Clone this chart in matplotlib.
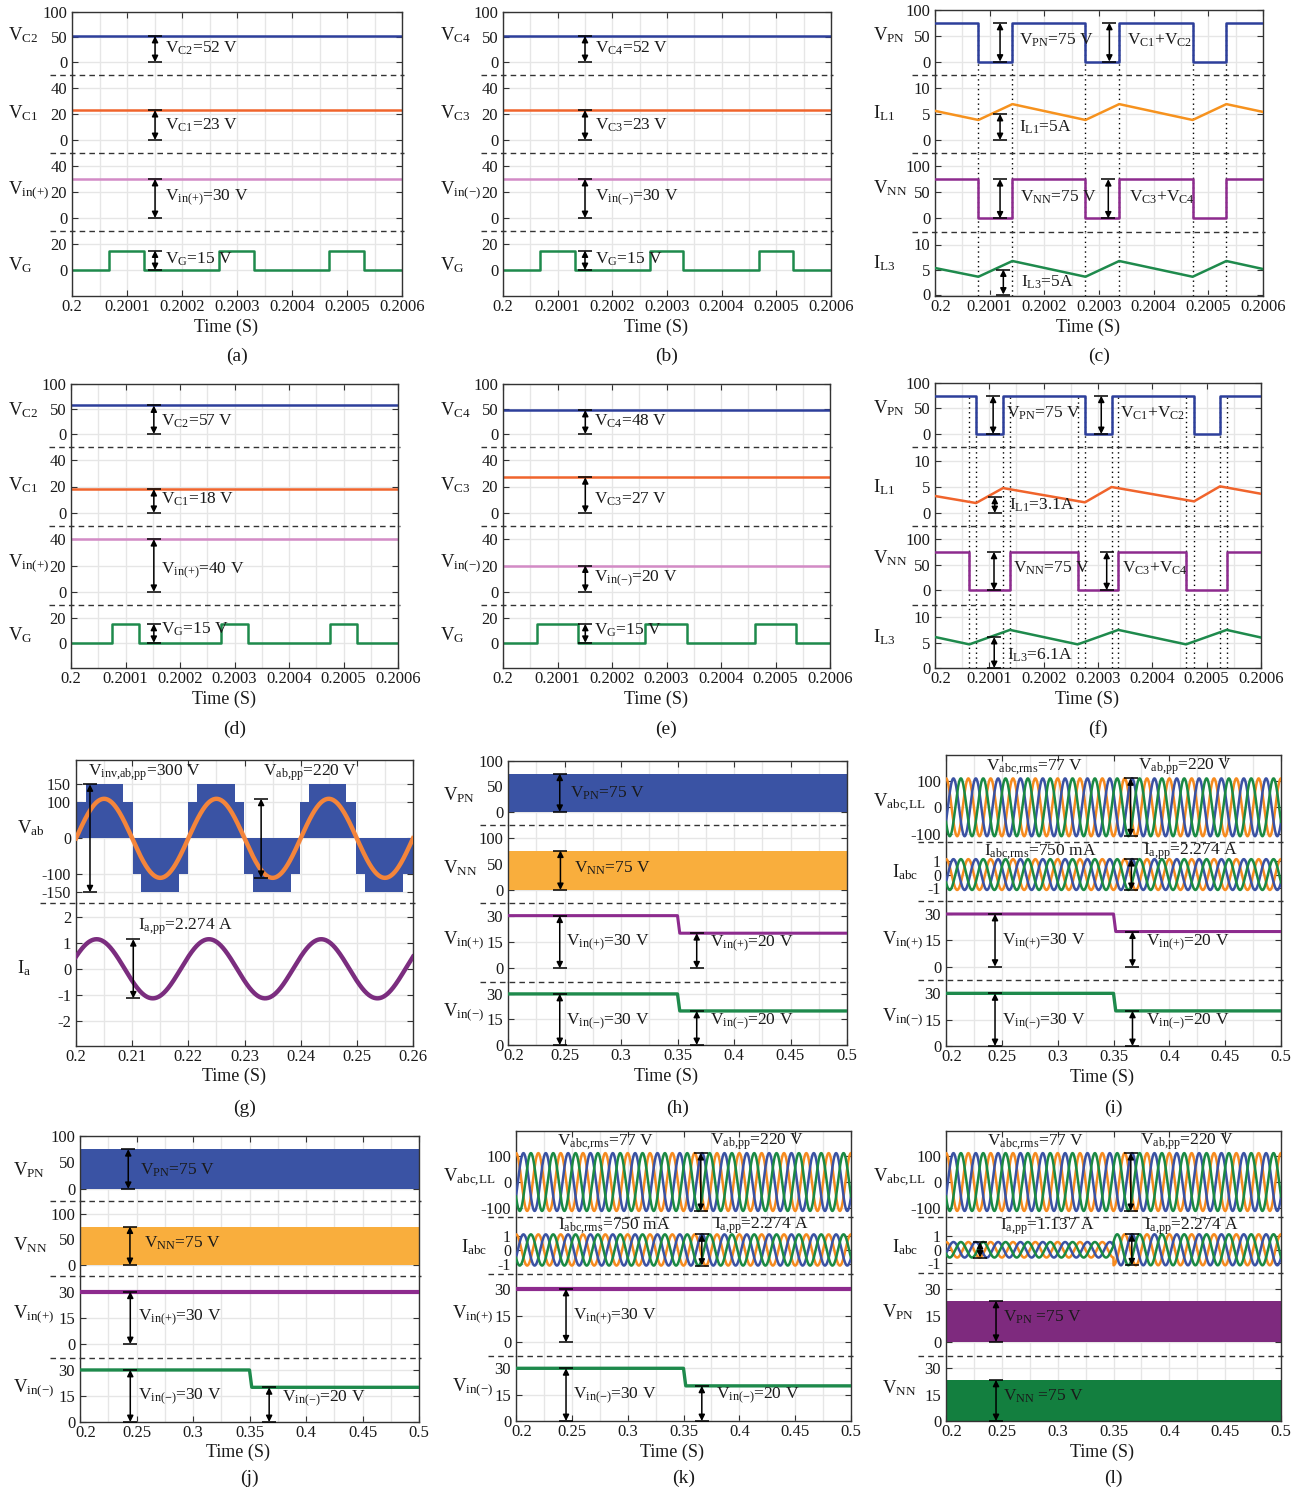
import numpy as np
import matplotlib
matplotlib.use('Agg')
import matplotlib.pyplot as plt
import matplotlib.transforms as mtransforms
from matplotlib.lines import Line2D

plt.rcParams['font.family'] = ['Liberation Serif', 'DejaVu Serif']
plt.rcParams['mathtext.fontset'] = 'custom'
plt.rcParams['mathtext.rm'] = 'Liberation Serif'
plt.rcParams['mathtext.it'] = 'Liberation Serif:italic'
plt.rcParams['mathtext.default'] = 'regular'

# ------------------------------------------------------------------ data
# switching-period window (s)
t_sw = [0.2, 0.2006]
sw_ticks = [0.2, 0.2001, 0.2002, 0.2003, 0.2004, 0.2005, 0.2006]
sw_ticklabels = ['0.2', '0.2001', '0.2002', '0.2003', '0.2004', '0.2005', '0.2006']

# (a)/(b): balanced inputs
vc2_a, vc1_a, vin_pos_a = 52, 23, 30
vc4_b, vc3_b, vin_neg_b = 52, 23, 30
vg_level = 15
gate_on_ab = [0.200067, 0.200268, 0.200468]
gate_off_ab = [0.200131, 0.200330, 0.200530]

# (d)/(e): unbalanced inputs
vc2_d, vc1_d, vin_pos_d = 57, 18, 40
vc4_e, vc3_e, vin_neg_e = 48, 27, 20
gate_on_d = [0.2000752, 0.2002746, 0.2004746]
gate_off_d = [0.2001242, 0.2003242, 0.2005242]
gate_on_e = [0.2000623, 0.2002614, 0.2004618]
gate_off_e = [0.2001368, 0.2003372, 0.2005370]

# (c): dc-link pulses and inductor currents, balanced case
vlink_level = 75
vpn_low_start_c = [0.2000794, 0.2002753, 0.2004713]
vpn_low_end_c = [0.2001416, 0.2003370, 0.2005330]
il_t_c = [0.2, 0.2000794, 0.2001416, 0.2002753, 0.2003370, 0.2004713, 0.2005330, 0.2006]
il1_c = [5.6, 3.85, 6.9, 3.85, 6.9, 3.85, 6.9, 5.4]
il3_c = [5.3, 3.55, 6.7, 3.55, 6.7, 3.55, 6.7, 5.1]

# (f): unbalanced case
vpn_low_start_f = [0.2000755, 0.2002760, 0.2004767]
vpn_low_end_f = [0.2001252, 0.2003250, 0.2005245]
vnn_low_start_f = [0.2000632, 0.2002626, 0.2004620]
vnn_low_end_f = [0.2001380, 0.2003374, 0.2005368]
il1_t_f = [0.2, 0.2000755, 0.2001252, 0.2002760, 0.2003250, 0.2004767, 0.2005245, 0.2006]
il1_f = [3.27, 1.92, 4.8, 2.05, 5.0, 2.24, 5.13, 3.7]
il3_t_f = [0.2, 0.2000632, 0.2001380, 0.2002626, 0.2003374, 0.2004620, 0.2005368, 0.2006]
il3_f = [6.1, 4.65, 7.5, 4.65, 7.5, 4.65, 7.5, 6.0]

# (g): inverter line voltage envelope and load quantities
g_ticks = [0.2, 0.21, 0.22, 0.23, 0.24, 0.25, 0.26]
g_ticklabels = ['0.2', '0.21', '0.22', '0.23', '0.24', '0.25', '0.26']
vinv_edges = [0.2000, 0.2017, 0.2084, 0.2101, 0.2116, 0.2184, 0.2200, 0.2216, 0.2283,
              0.2299, 0.2315, 0.2383, 0.2398, 0.2414, 0.2481, 0.2498, 0.2515, 0.2582, 0.2600]
vinv_levels = [100, 150, 100, -100, -150, -100, 100, 150, 100,
               -100, -150, -100, 100, 150, 100, -100, -150, -100]
grid_freq = 50
vab_amp = 110
ia_amp = 1.137
ia_phase = 0.42

# (h)-(l): long window
long_ticks = [0.2, 0.25, 0.3, 0.35, 0.4, 0.45, 0.5]
long_ticklabels = ['0.2', '0.25', '0.3', '0.35', '0.4', '0.45', '0.5']
t_long = [0.2, 0.5]
vin_step_t = [0.2, 0.35, 0.352, 0.5]
vin_step = [30, 30, 20, 20]
vin_const = [30, 30]
vll_amp = 110
iabc_amp = 1.137
iabc_amp_light = 0.5685
load_step_t = 0.35
phase_shift = [0.0, -2 * np.pi / 3, 2 * np.pi / 3]

# ------------------------------------------------------------------ style
C_BLUE = '#2d3f9b'
C_RED = '#f0642c'
C_PINK = '#d38bc6'
C_GREEN = '#1e8a4c'
C_ORANGE = '#f6921e'
C_PURPLE = '#8d2b8e'
C_FILLBLUE = '#3a53a4'
C_FILLORANGE = '#f9ae3d'
C_SINE = '#f4853b'
C_IA = '#7b2d7f'
C_3PH = ['#f68b1f', '#3b52a3', '#1b8a43']
C_PN_L = '#7e2a7e'
C_NN_L = '#137f3f'

GRID = '#e6e6e6'
EDGE = '#333333'
TXT = '#1a1a1a'
FS_TICK = 12
FS_LAB = 13.5
FS_ANN = 12.5
FS_TIME = 13

W, H = 1297, 1492
fig = plt.figure(figsize=(W / 100, H / 100), dpi=100)
fig.patch.set_facecolor('white')


def fx(px):
    return px / W


def fy(py):
    return 1 - py / H


def midpoints(v):
    return [(a + b) / 2 for a, b in zip(v[:-1], v[1:])]


X_SW = dict(lim=(0.2, 0.2006), ticks=sw_ticks, labels=sw_ticklabels, minor=midpoints(sw_ticks))
X_G = dict(lim=(0.2, 0.26), ticks=g_ticks, labels=g_ticklabels, minor=midpoints(g_ticks))
X_L = dict(lim=(0.2, 0.5), ticks=long_ticks, labels=long_ticklabels, minor=midpoints(long_ticks))


def make_panel(box, seps, xcfg, bands, labels, caption, xlab_y, cap_y, dash_ext):
    left, top, right, bottom = box
    edges = [top] + list(seps) + [bottom]
    n = len(bands)
    axes = []
    for i, (b, (ltxt, lx, ly)) in enumerate(zip(bands, labels)):
        y0, y1 = edges[i], edges[i + 1]
        ax = fig.add_axes([fx(left), fy(y1), (right - left) / W, (y1 - y0) / H])
        ax.set_xlim(xcfg['lim'])
        ax.set_ylim(b['ylim'])
        ax.set_yticks(b['ticks'])
        ax.set_yticklabels(b.get('labels', [str(v) for v in b['ticks']]))
        ax.set_xticks(xcfg['ticks'])
        ax.set_xticks(xcfg['minor'], minor=True)
        ax.set_xticklabels(xcfg['labels'])
        ax.grid(True, axis='x', which='both', color=GRID, lw=1.0)
        ax.grid(True, axis='y', which='major', color=GRID, lw=1.0)
        ax.set_axisbelow(True)
        ax.tick_params(axis='y', which='major', direction='in', left=True, right=True,
                       length=4, width=0.8, color=EDGE, labelsize=b.get('fs', FS_TICK),
                       labelcolor=TXT, pad=3.5)
        ax.tick_params(axis='x', which='minor', length=0, bottom=False, top=False)
        ax.tick_params(axis='x', which='major', direction='in', length=4, width=0.8,
                       color=EDGE, labelsize=FS_TICK, labelcolor=TXT, pad=2,
                       bottom=(i == n - 1), top=(i == 0),
                       labelbottom=(i == n - 1), labeltop=False)
        for side in ('left', 'right', 'top', 'bottom'):
            ax.spines[side].set_color(EDGE)
            ax.spines[side].set_linewidth(1.0)
        ax.spines['top'].set_visible(i == 0)
        ax.spines['bottom'].set_visible(i == n - 1)
        ax.set_facecolor('none')
        fig.text(fx(lx), fy(ly), ltxt, ha='left', va='center', fontsize=FS_LAB, color=TXT)
        axes.append(ax)
    # keep the first time label clear of a zero tick sitting on the bottom edge
    if bands[-1]['ylim'][0] > -1:
        first = axes[-1].xaxis.get_major_ticks()[0].label1
        first.set_transform(first.get_transform() +
                            mtransforms.ScaledTranslation(6 / 100, 0, fig.dpi_scale_trans))
    for s in seps:
        fig.add_artist(Line2D([fx(left - dash_ext), fx(right + 2)], [fy(s), fy(s)],
                              ls=(0, (4, 3)), color=EDGE, lw=1.0))
    cx = (left + right) / 2
    fig.text(fx(cx - 11), fy(xlab_y), 'Time (S)', ha='center', va='center',
             fontsize=FS_TIME, color=TXT)
    fig.text(fx(cx), fy(cap_y), caption, ha='center', va='center',
             fontsize=FS_LAB + 0.5, color=TXT)
    return axes


def dim(ax, x, y0, y1, half_px=7):
    x0, x1 = ax.get_xlim()
    pw = ax.get_position().width * W
    dx = half_px / pw * (x1 - x0)
    for yy in (y0, y1):
        ax.plot([x - dx, x + dx], [yy, yy], color='k', lw=1.1, clip_on=False,
                zorder=6, solid_capstyle='butt')
    ax.annotate('', xy=(x, y1), xytext=(x, y0), annotation_clip=False,
                arrowprops=dict(arrowstyle='<|-|>', color='k', lw=1.1, shrinkA=0,
                                shrinkB=0, mutation_scale=9), zorder=6)


def note(ax, x, y, s, fs=FS_ANN):
    ax.text(x, y, s, ha='left', va='center', fontsize=fs, color=TXT, zorder=7)


def pulse_train(t0, t1, starts, ends, base, pulse):
    t, v = [t0], [base]
    for s, e in zip(starts, ends):
        t += [s, s, e, e]
        v += [base, pulse, pulse, base]
    t.append(t1)
    v.append(base)
    return t, v


A_BANDS = [dict(ylim=(-26, 100), ticks=[0, 50, 100]),
           dict(ylim=(-10, 50), ticks=[0, 20, 40]),
           dict(ylim=(-10, 50), ticks=[0, 20, 40]),
           dict(ylim=(-20, 30), ticks=[0, 20])]


def dc_panel(box, seps, names, lx, ly, values, gate_on, gate_off, caption, xlab_y, cap_y,
             arrow_x, text_x, text_y):
    ax = make_panel(box, seps, X_SW, A_BANDS,
                    [(nm, lx, yy) for nm, yy in zip(names, ly)],
                    caption, xlab_y, cap_y, 22)
    top_v, mid_v, vin_v = values
    ax[0].plot(t_sw, [top_v, top_v], color=C_BLUE, lw=1.8)
    ax[1].plot(t_sw, [mid_v, mid_v], color=C_RED, lw=1.8)
    ax[2].plot(t_sw, [vin_v, vin_v], color=C_PINK, lw=1.8)
    gt, gv = pulse_train(0.2, 0.2006, gate_on, gate_off, 0, vg_level)
    ax[3].plot(gt, gv, color=C_GREEN, lw=1.8)
    vals = [top_v, mid_v, vin_v, vg_level]
    for k in range(4):
        dim(ax[k], arrow_x, 0, vals[k])
        note(ax[k], text_x, text_y[k], '%s=%d V' % (names[k], vals[k]))
    return ax


# ------------------------------------------------------------------ (a)
dc_panel((72, 12, 402, 296), [75, 153, 231],
         [r'V$_{C2}$', r'V$_{C1}$', r'V$_{in(+)}$', r'V$_{G}$'], 8, [35, 113, 190, 265],
         (vc2_a, vc1_a, vin_pos_a), gate_on_ab, gate_off_ab, '(a)', 327, 356,
         0.200151, 0.200169, [28, 11.5, 15.4, 8.5])

# ------------------------------------------------------------------ (b)
dc_panel((503, 12, 831, 296), [75, 153, 231],
         [r'V$_{C4}$', r'V$_{C3}$', r'V$_{in(-)}$', r'V$_{G}$'], 440, [35, 113, 190, 265],
         (vc4_b, vc3_b, vin_neg_b), gate_on_ab, gate_off_ab, '(b)', 327, 356,
         0.200150, 0.2001683, [28, 11.5, 15.4, 8.5])

# ------------------------------------------------------------------ (d)
dc_panel((71, 384, 398, 668), [447, 526, 605],
         [r'V$_{C2}$', r'V$_{C1}$', r'V$_{in(+)}$', r'V$_{G}$'], 8, [410, 485, 563, 635],
         (vc2_d, vc1_d, vin_pos_d), gate_on_d, gate_off_d, '(d)', 699, 729,
         0.200152, 0.2001657, [24.6, 10.5, 16.2, 10.8])

# ------------------------------------------------------------------ (e)
dc_panel((503, 384, 830, 668), [447, 526, 605],
         [r'V$_{C4}$', r'V$_{C3}$', r'V$_{in(-)}$', r'V$_{G}$'], 440, [410, 485, 563, 635],
         (vc4_e, vc3_e, vin_neg_e), gate_on_e, gate_off_e, '(e)', 699, 729,
         0.200151, 0.2001674, [24.6, 10.5, 9.8, 10.0])


# ------------------------------------------------------------------ (c) / (f)
def link_panel(box, seps, bands, ly, caption, xlab_y, cap_y, pn_edges, nn_edges,
               il1_t, il1, il3_t, il3, il1_col, arrows, texts, il_vals):
    ax = make_panel(box, seps, X_SW, bands,
                    [(r'V$_{PN}$', 873, ly[0]), (r'I$_{L1}$', 873, ly[1]),
                     (r'V$_{NN}$', 873, ly[2]), (r'I$_{L3}$', 873, ly[3])],
                    caption, xlab_y, cap_y, 23)
    pt, pv = pulse_train(0.2, 0.2006, pn_edges[0], pn_edges[1], vlink_level, 0)
    nt, nv = pulse_train(0.2, 0.2006, nn_edges[0], nn_edges[1], vlink_level, 0)
    ax[0].plot(pt, pv, color=C_BLUE, lw=1.8, zorder=3)
    ax[1].plot(il1_t, il1, color=il1_col, lw=1.8, zorder=3)
    ax[2].plot(nt, nv, color=C_PURPLE, lw=1.8, zorder=3)
    ax[3].plot(il3_t, il3, color=C_GREEN, lw=1.8, zorder=3)
    marks = sorted(set(list(pn_edges[0]) + list(pn_edges[1]) +
                       list(nn_edges[0]) + list(nn_edges[1])))
    for k, a in enumerate(ax):
        lo = a.get_ylim()[0]
        hi = vlink_level if k == 0 else a.get_ylim()[1]
        a.vlines(marks, lo, hi, colors='k', linestyles=(0, (1, 2.5)), lw=1.0, zorder=2)
    (x1, x2, xi1, xi3), (tx1, tx2, ti1, ti3), ty = arrows, texts[:4], texts[4]
    dim(ax[0], x1, 0, vlink_level)
    dim(ax[0], x2, 0, vlink_level)
    note(ax[0], tx1, ty[0], r'V$_{PN}$=75 V')
    note(ax[0], tx2, ty[0], r'V$_{C1}$+V$_{C2}$')
    dim(ax[1], xi1, 0, il_vals[0])
    note(ax[1], ti1, ty[1], r'I$_{L1}$=%sA' % il_vals[2])
    dim(ax[2], x1 + il_vals[4], 0, vlink_level)
    dim(ax[2], x2 + il_vals[5], 0, vlink_level)
    note(ax[2], tx1 + il_vals[6], ty[2], r'V$_{NN}$=75 V')
    note(ax[2], tx2 + il_vals[7], ty[2], r'V$_{C3}$+V$_{C4}$')
    dim(ax[3], xi3, 0, il_vals[1])
    note(ax[3], ti3, ty[3], r'I$_{L3}$=%sA' % il_vals[3])
    return ax


link_panel((935, 10, 1263, 296), [75, 153, 232],
           [dict(ylim=(-26, 100), ticks=[0, 50, 100]),
            dict(ylim=(-2.5, 12.5), ticks=[0, 5, 10]),
            dict(ylim=(-26, 125), ticks=[0, 50, 100]),
            dict(ylim=(-0.3, 12.5), ticks=[0, 5, 10])],
           [35, 113, 188, 263], '(c)', 327, 356,
           (vpn_low_start_c, vpn_low_end_c), (vpn_low_start_c, vpn_low_end_c),
           il_t_c, il1_c, il_t_c, il3_c, C_ORANGE,
           (0.200119, 0.200319, 0.200119, 0.200125),
           (0.2001545, 0.200351, 0.2001545, 0.200157, [42, 2.5, 41, 2.5]),
           (5, 5, '5', '5', 0, -0.000002, 0.000001, 0.0000035))

link_panel((935, 383, 1261, 668), [447, 526, 605],
           [dict(ylim=(-25.5, 100), ticks=[0, 50, 100]),
            dict(ylim=(-2.5, 12.7), ticks=[0, 5, 10]),
            dict(ylim=(-29, 125.5), ticks=[0, 50, 100]),
            dict(ylim=(0, 12.4), ticks=[0, 5, 10])],
           [408, 487, 558, 637], '(f)', 699, 729,
           (vpn_low_start_f, vpn_low_end_f), (vnn_low_start_f, vnn_low_end_f),
           il1_t_f, il1_f, il3_t_f, il3_f, C_RED,
           (0.200107, 0.200306, 0.200110, 0.200109),
           (0.200130, 0.200340, 0.200137, 0.200132, [41, 1.5, 43, 2.5]),
           (3.1, 6.1, '3.1', '6.1', 0.0000016, 0.00001, 0.000013, 0.000004))

# ------------------------------------------------------------------ (g)
ag = make_panel((76, 760, 413, 1046), [903], X_G,
                [dict(ylim=(-180, 218), ticks=[-150, -100, 0, 100, 150], fs=11.5),
                 dict(ylim=(-2.97, 2.53), ticks=[-2, -1, 0, 1, 2])],
                [(r'V$_{ab}$', 17, 828), (r'I$_{a}$', 17, 968)],
                '(g)', 1076, 1108, 36)
ag[0].fill_between(vinv_edges, 0, vinv_levels + [vinv_levels[-1]], step='post',
                   color=C_FILLBLUE, lw=0, zorder=2)
tg = np.linspace(0.2, 0.26, 1500)
ag[0].plot(tg, vab_amp * np.sin(2 * np.pi * grid_freq * (tg - 0.2)), color=C_SINE,
           lw=3.2, zorder=3)
ag[1].plot(tg, ia_amp * np.sin(2 * np.pi * grid_freq * (tg - 0.2) + ia_phase),
           color=C_IA, lw=3.2, zorder=3)
dim(ag[0], 0.20249, -150, 150)
note(ag[0], 0.2022, 184, r'V$_{inv{,}ab{,}pp}$=300 V')
dim(ag[0], 0.23296, -vab_amp, vab_amp)
note(ag[0], 0.23325, 184, r'V$_{ab{,}pp}$=220 V')
dim(ag[1], 0.2102, -ia_amp, ia_amp)
note(ag[1], 0.21095, 1.62, r'I$_{a{,}pp}$=2.274 A')


# ------------------------------------------------------------------ (h) / (j)
def fill_panel(box, seps, bands, lx, ly, caption, xlab_y, cap_y, dash_ext, vin_pos,
               arr, txt, ty, step_pos):
    ax = make_panel(box, seps, X_L, bands,
                    [(r'V$_{PN}$', lx, ly[0]), (r'V$_{NN}$', lx, ly[1]),
                     (r'V$_{in(+)}$', lx, ly[2]), (r'V$_{in(-)}$', lx, ly[3])],
                    caption, xlab_y, cap_y, dash_ext)
    ax[0].fill_between(t_long, 0, vlink_level, color=C_FILLBLUE, lw=0, zorder=2)
    ax[1].fill_between(t_long, 0, vlink_level, color=C_FILLORANGE, lw=0, zorder=2)
    if step_pos:
        ax[2].plot(vin_step_t, vin_pos, color=C_PURPLE, lw=2.2, zorder=3)
    else:
        ax[2].plot(t_long, vin_pos, color=C_PURPLE, lw=3.0, zorder=3)
    ax[3].plot(vin_step_t, vin_step, color=C_GREEN, lw=2.4, zorder=3)
    dim(ax[0], arr[0], 0, vlink_level)
    note(ax[0], txt[0], ty[0], r'V$_{PN}$=75 V')
    dim(ax[1], arr[1], 0, vlink_level)
    note(ax[1], txt[1], ty[1], r'V$_{NN}$=75 V')
    dim(ax[2], arr[2], 0, vin_step[0])
    note(ax[2], txt[2], ty[2], r'V$_{in(+)}$=30 V')
    if step_pos:
        dim(ax[2], arr[3], 0, vin_step[-1])
        note(ax[2], txt[3], ty[3], r'V$_{in(+)}$=20 V')
    dim(ax[3], arr[2], 0, vin_step[0])
    note(ax[3], txt[2], ty[4], r'V$_{in(-)}$=30 V')
    dim(ax[3], arr[3], 0, vin_step[-1])
    note(ax[3], txt[3], ty[5], r'V$_{in(-)}$=20 V')
    return ax


fill_panel((508, 761, 847, 1045), [825, 903, 982],
           [dict(ylim=(-26, 100), ticks=[0, 50, 100]),
            dict(ylim=(-25, 124), ticks=[0, 50, 100]),
            dict(ylim=(-7.8, 37.2), ticks=[0, 15, 30]),
            dict(ylim=(0, 37), ticks=[0, 15, 30])],
           443, [795, 868, 940, 1012], '(h)', 1076, 1108, 28, vin_step,
           (0.2458, 0.2464, 0.2458, 0.3670), (0.2547, 0.2582, 0.2511, 0.3788),
           [37, 42, 14.5, 14, 13.7, 13.5], True)

fill_panel((80, 1136, 419, 1422), [1201, 1276, 1358],
           [dict(ylim=(-23, 100), ticks=[0, 50, 100]),
            dict(ylim=(-21.6, 125), ticks=[0, 50, 100]),
            dict(ylim=(-8, 39), ticks=[0, 15, 30]),
            dict(ylim=(0, 36.9), ticks=[0, 15, 30])],
           13, [1170, 1245, 1314, 1388], '(j)', 1452, 1478, 30, vin_const,
           (0.2427, 0.2442, 0.2445, 0.3674), (0.2530, 0.2566, 0.2510, 0.3790),
           [36, 43, 15, 15, 14.6, 13.5], False)

# ------------------------------------------------------------------ (i) / (k) / (l)
t3 = np.linspace(0.2, 0.5, 6000)


def three_phase(ax_v, ax_i, i_amp):
    for ph, col in zip(phase_shift, C_3PH):
        ax_v.plot(t3, vll_amp * np.cos(2 * np.pi * grid_freq * (t3 - 0.2) + ph),
                  color=col, lw=1.8, zorder=3)
    for ph, col in zip(phase_shift, C_3PH):
        ax_i.plot(t3, i_amp * np.cos(2 * np.pi * grid_freq * (t3 - 0.2) + ph),
                  color=col, lw=1.8, zorder=3)


def ac_top(ax, xr, yv, yi, arr_v, arr_i, txt_i):
    note(ax[0], xr[0], yv, r'V$_{abc{,}rms}$=77 V')
    dim(ax[0], arr_v, -vll_amp, vll_amp)
    note(ax[0], xr[1], yv, r'V$_{ab{,}pp}$=220 V')
    note(ax[1], txt_i[0], yi, r'I$_{abc{,}rms}$=750 mA')
    dim(ax[1], arr_i, -iabc_amp, iabc_amp)
    note(ax[1], txt_i[1], yi, r'I$_{a{,}pp}$=2.274 A')


# (i)
ai = make_panel((946, 755, 1281, 1046), [842, 901, 980], X_L,
                [dict(ylim=(-132, 199), ticks=[-100, 0, 100]),
                 dict(ylim=(-1.95, 2.4), ticks=[-1, 0, 1], fs=11.5),
                 dict(ylim=(-7.6, 37.4), ticks=[0, 15, 30]),
                 dict(ylim=(0, 37.6), ticks=[0, 15, 30])],
                [(r'V$_{abc{,}LL}$', 873, 803), (r'I$_{abc}$', 892, 872),
                 (r'V$_{in(+)}$', 882, 940), (r'V$_{in(-)}$', 882, 1017)],
                '(i)', 1077, 1108, 28)
three_phase(ai[0], ai[1], iabc_amp)
ai[2].plot(vin_step_t, vin_step, color=C_PURPLE, lw=2.2, zorder=3)
ai[3].plot(vin_step_t, vin_step, color=C_GREEN, lw=2.4, zorder=3)
ac_top(ai, (0.2355, 0.3722), 154, 1.65, 0.3653, 0.3660, (0.2340, 0.3767))
dim(ai[2], 0.2439, 0, vin_step[0])
note(ai[2], 0.2500, 14.2, r'V$_{in(+)}$=30 V')
dim(ai[2], 0.3670, 0, vin_step[-1])
note(ai[2], 0.3790, 13.5, r'V$_{in(+)}$=20 V')
dim(ai[3], 0.2439, 0, vin_step[0])
note(ai[3], 0.2500, 13.7, r'V$_{in(-)}$=30 V')
dim(ai[3], 0.3670, 0, vin_step[-1])
note(ai[3], 0.3790, 13.7, r'V$_{in(-)}$=20 V')

# (k)
ak = make_panel((516, 1131, 851, 1421), [1217, 1274, 1356], X_L,
                [dict(ylim=(-133, 194), ticks=[-100, 0, 100]),
                 dict(ylim=(-1.75, 2.4), ticks=[-1, 0, 1], fs=11.5),
                 dict(ylim=(-7.7, 38.4), ticks=[0, 15, 30]),
                 dict(ylim=(0, 37), ticks=[0, 15, 30])],
                [(r'V$_{abc{,}LL}$', 443, 1178), (r'I$_{abc}$', 461, 1247),
                 (r'V$_{in(+)}$', 452, 1314), (r'V$_{in(-)}$', 452, 1387)],
                '(k)', 1452, 1478, 28)
three_phase(ak[0], ak[1], iabc_amp)
ak[2].plot(t_long, vin_const, color=C_PURPLE, lw=3.0, zorder=3)
ak[3].plot(vin_step_t, vin_step, color=C_GREEN, lw=2.4, zorder=3)
ac_top(ak, (0.2365, 0.3733), 153, 1.75, 0.3655, 0.3664, (0.2380, 0.3769))
dim(ak[2], 0.2448, 0, vin_const[0])
note(ak[2], 0.2508, 14.4, r'V$_{in(+)}$=30 V')
dim(ak[3], 0.2448, 0, vin_step[0])
note(ak[3], 0.2508, 14, r'V$_{in(-)}$=30 V')
dim(ak[3], 0.3664, 0, vin_step[-1])
note(ak[3], 0.3793, 14, r'V$_{in(-)}$=20 V')

# (l)
pn_scale = vlink_level / 23.4
al = make_panel((946, 1131, 1281, 1421), [1217, 1273, 1356], X_L,
                [dict(ylim=(-133, 194), ticks=[-100, 0, 100]),
                 dict(ylim=(-1.7, 2.4), ticks=[-1, 0, 1], fs=11.5),
                 dict(ylim=(-8.1 * pn_scale, 39.3 * pn_scale),
                      ticks=[0, 15 * pn_scale, 30 * pn_scale], labels=['0', '15', '30']),
                 dict(ylim=(0, 37 * pn_scale),
                      ticks=[0, 15 * pn_scale, 30 * pn_scale], labels=['0', '15', '30'])],
                [(r'V$_{abc{,}LL}$', 873, 1178), (r'I$_{abc}$', 892, 1247),
                 (r'V$_{PN}$', 882, 1312), (r'V$_{NN}$', 882, 1388)],
                '(l)', 1452, 1478, 28)
for ph, col in zip(phase_shift, C_3PH):
    al[0].plot(t3, vll_amp * np.cos(2 * np.pi * grid_freq * (t3 - 0.2) + ph),
               color=col, lw=1.8, zorder=3)
amp_l = np.where(t3 < load_step_t, iabc_amp_light, iabc_amp)
for ph, col in zip(phase_shift, C_3PH):
    al[1].plot(t3, amp_l * np.cos(2 * np.pi * grid_freq * (t3 - 0.2) + ph),
               color=col, lw=1.8, zorder=3)
note(al[0], 0.2365, 153, r'V$_{abc{,}rms}$=77 V')
dim(al[0], 0.3655, -vll_amp, vll_amp)
note(al[0], 0.3733, 153, r'V$_{ab{,}pp}$=220 V')
dim(al[1], 0.2305, -iabc_amp_light, iabc_amp_light)
note(al[1], 0.2484, 1.68, r'I$_{a{,}pp}$=1.137 A')
dim(al[1], 0.3664, -iabc_amp, iabc_amp)
note(al[1], 0.3769, 1.68, r'I$_{a{,}pp}$=2.274 A')
al[2].fill_between(t_long, 0, vlink_level, color=C_PN_L, lw=0, zorder=2)
al[3].fill_between(t_long, 0, vlink_level, color=C_NN_L, lw=0, zorder=2)
dim(al[2], 0.2448, 0, vlink_level)
note(al[2], 0.2508, 45.6, r'V$_{PN}$ =75 V')
dim(al[3], 0.2448, 0, vlink_level)
note(al[3], 0.2508, 45.6, r'V$_{NN}$ =75 V')

fig.savefig('out.png', dpi=100, facecolor='white')
